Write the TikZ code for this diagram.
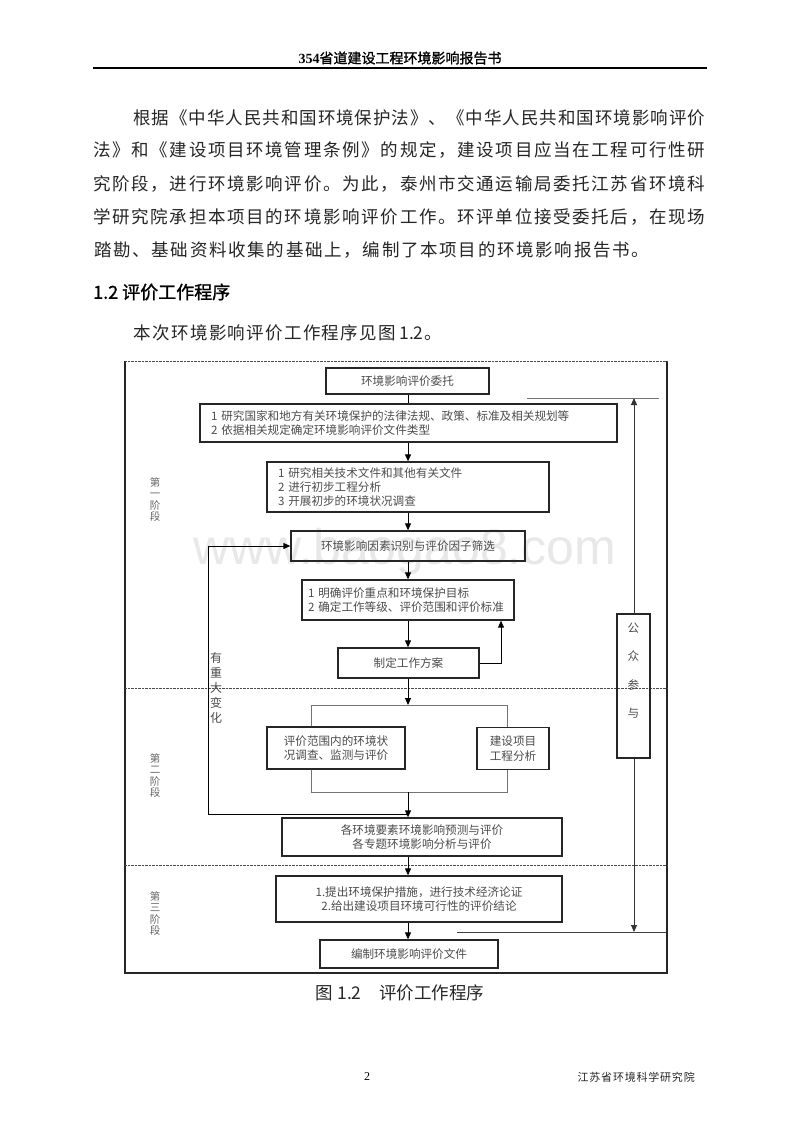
\documentclass[tikz,border=0pt]{standalone}
\usepackage{fontspec}
\setmainfont{Liberation Serif}
\newfontfamily\cjk{Noto Sans CJK SC}
\newfontfamily\cjkb{Noto Sans CJK SC}[FakeBold=1.2]
\newfontfamily\wmf{Liberation Sans}
\usetikzlibrary{arrows.meta}
\def\rsspreadA#1{\ifx#1\relax\else#1\hfill\expandafter\rsspreadA\fi}
\newcommand\rsspread[2]{\makebox[#1][l]{\rsspreadA#2\relax\unskip}}
\def\rsgridA#1{\ifx#1\relax\else\makebox[\rsgw][c]{#1}\expandafter\rsgridA\fi}
\newcommand\rsgrid[2]{\def\rsgw{#1}\rsgridA#2\relax}
\newcommand\rsdfont{\cjk\fontsize{11.6}{14.3}\selectfont}
\tikzset{
  body/.style={anchor=west, inner sep=0pt, font=\cjk\fontsize{17.5}{20}\selectfont, text=black!85},
  box/.style={draw=black!85, line width=1.3pt, inner sep=0pt, font=\rsdfont, text=black!70},
  stagelab/.style={inner sep=0pt, align=center, font=\cjk\fontsize{10.5}{11.3}\selectfont, text=black!60},
  arr/.style={-{Triangle[length=7pt,width=6pt]}, line width=0.9pt, draw=black},
  ln/.style={line width=0.9pt, draw=black!55},
  dln/.style={line width=0.9pt, draw=black!75},
  dotline/.style={line width=1pt, draw=black!70, dash pattern=on 0.8pt off 0.6pt},
  frame/.style={line width=1.3pt, draw=black!85}
}
\begin{document}
\begin{tikzpicture}[x=1pt,y=-1pt]
\useasboundingbox (0,0) rectangle (800,1132);
\fill[white] (0,0) rectangle (800,1132);
% watermark
\node[font=\wmf\fontsize{50}{50}\selectfont, text=black!9, inner sep=0pt] (wm) at (405,552) {www.baogao8.com};
% page header
\node[font=\cjkb\fontsize{14}{16}\selectfont, inner sep=0pt] (hdr) at (400,58) {{\rmfamily\bfseries 354}省道建设工程环境影响报告书};
\draw[line width=1.2pt] (93,68) -- (707,68);
% body text
\node[body] (p1) at (133,118) {\rsspread{572pt}{根据《中华人民共和国环境保护法》、《中华人民共和国环境影响评价}};
\node[body] (p2) at (93,150) {\rsspread{612pt}{法》和《建设项目环境管理条例》的规定，建设项目应当在工程可行性研}};
\node[body] (p3) at (93,184) {\rsspread{612pt}{究阶段，进行环境影响评价。为此，泰州市交通运输局委托江苏省环境科}};
\node[body] (p4) at (93,217) {\rsspread{612pt}{学研究院承担本项目的环境影响评价工作。环评单位接受委托后，在现场}};
\node[body] (p5) at (93,250) {\rsgrid{19.2pt}{踏勘、基础资料收集的基础上，编制了本项目的环境影响报告书。}};
\node[anchor=west, inner sep=0pt, font=\cjkb\fontsize{18}{20}\selectfont] (h12) at (93,292) {1.2 评价工作程序};
\node[body] (p6) at (133,333) {\rsgrid{18.8pt}{本次环境影响评价工作程序见图}\,1.2\rsgrid{18.8pt}{。}};
% frame
\draw[frame] (125,361) -- (125,973) -- (667,973) -- (667,361);
\draw[dotline] (125,361) -- (667,361);
\draw[dotline] (125,688) -- (667,688);
\draw[dotline] (125,865) -- (667,865);
% stage labels
\node[stagelab] (s1) at (155,499.5) {第\\一\\阶\\段};
\node[stagelab] (s2) at (155,775.5) {第\\二\\阶\\段};
\node[stagelab] (s3) at (155,913.5) {第\\三\\阶\\段};
\node[inner sep=0pt, align=center, font=\cjk\fontsize{12}{15}\selectfont, text=black!70] (chg) at (216,688) {有\\重\\大\\变\\化};
% boxes
\node[box, minimum width=163pt, minimum height=26pt] (b1) at (407.5,381) {环境影响评价委托};
\node[box, minimum width=417pt, minimum height=38pt, text width=395pt, align=left] (b2) at (408.5,423) {1 研究国家和地方有关环境保护的法律法规、政策、标准及相关规划等\\2 依据相关规定确定环境影响评价文件类型};
\node[box, minimum width=282pt, minimum height=50pt, text width=260pt, align=left] (b3) at (408,487) {1 研究相关技术文件和其他有关文件\\2 进行初步工程分析\\3 开展初步的环境状况调查};
\node[box, minimum width=234pt, minimum height=30pt] (b4) at (408,546) {环境影响因素识别与评价因子筛选};
\node[box, minimum width=212pt, minimum height=40pt, text width=200pt, align=left] (b5) at (408,600) {1 明确评价重点和环境保护目标\\2 确定工作等级、评价范围和评价标准};
\node[box, minimum width=141pt, minimum height=30pt] (b6) at (408.5,663) {制定工作方案};
\node[box, minimum width=138pt, minimum height=42pt, align=center] (b7) at (336,748) {评价范围内的环境状\\况调查、监测与评价};
\node[box, minimum width=72pt, minimum height=42pt, align=center] (b8) at (513,748.5) {建设项目\\工程分析};
\node[box, minimum width=280pt, minimum height=38pt, align=center] (b9) at (422,837) {各环境要素环境影响预测与评价\\各专题环境影响分析与评价};
\node[box, minimum width=286pt, minimum height=46pt, align=center] (b10) at (419,899) {1.提出环境保护措施，进行技术经济论证\\2.给出建设项目环境可行性的评价结论};
\node[box, minimum width=178pt, minimum height=28pt] (b11) at (409,954) {编制环境影响评价文件};
\node[box, minimum width=33pt, minimum height=144pt] (pub) at (633.5,686) {};
\node[inner sep=0pt, align=center, font=\cjk\fontsize{11.6}{28.3}\selectfont, text=black!70] (pubt) at (633.5,670.5) {公\\众\\参\\与};
% coordinates
\coordinate (jm) at (408,792);
\coordinate (sl) at (311,705);
\coordinate (sr) at (507,705);
\coordinate (jl) at (311,792);
\coordinate (jr) at (507,792);
\coordinate (lb) at (408,814);
\coordinate (lc) at (208,814);
\coordinate (fb) at (501,663);
\coordinate (pt) at (634,398);
\coordinate (pb) at (634,932);
\coordinate (tl) at (527,398);
\coordinate (tr) at (659,398);
\coordinate (bl) at (457,932);
\coordinate (br) at (666,932);
% connectors
\draw[line width=0.9pt] (jm |- b1.south) -- (jm |- b2.north);
\draw[arr] (jm |- b2.south) -- (jm |- b3.north);
\draw[arr] (jm |- b3.south) -- (jm |- b4.north);
\draw[arr] (jm |- b4.south) -- (jm |- b5.north);
\draw[arr] (jm |- b5.south) -- (jm |- b6.north);
\draw[arr] (jm |- b6.south) -- (jm |- sl);
\draw[ln] (sl |- b7.north) -- (sl) -- (sr) -- (sr |- b8.north);
\draw[ln] (jl |- b7.south) -- (jl) -- (jr) -- (jr |- b8.south);
\draw[arr] (jm) -- (jm |- b9.north);
\draw[arr] (lb) -- (lc) -- (lc |- b4.west) -- (b4.west);
\draw[arr] (b6.east) -- (fb) -- (fb |- b5.south);
\draw[arr] (jm |- b9.south) -- (jm |- b10.north);
\draw[arr] (jm |- b10.south) -- (jm |- b11.north);
\draw[arr, draw=black!80] (pt |- pub.north) -- (pt);
\draw[arr, draw=black!80] (pt |- pub.south) -- (pb);
\draw[ln] (tl) -- (tr);
\draw[dln] (bl) -- (br);
% caption and footer
\node[inner sep=0pt, font=\cjk\fontsize{17.5}{20}\selectfont, text=black!85] (cap) at (400,993) {图\ 1.2\quad 评价工作程序};
\node[inner sep=0pt, font=\rmfamily\fontsize{12}{14}\selectfont] (pg) at (367,1077) {2};
\node[anchor=west, inner sep=0pt, font=\cjk\fontsize{11}{13}\selectfont, text=black!85] (inst) at (577,1077) {\rsgrid{11.8pt}{江苏省环境科学研究院}};
\end{tikzpicture}
\end{document}
